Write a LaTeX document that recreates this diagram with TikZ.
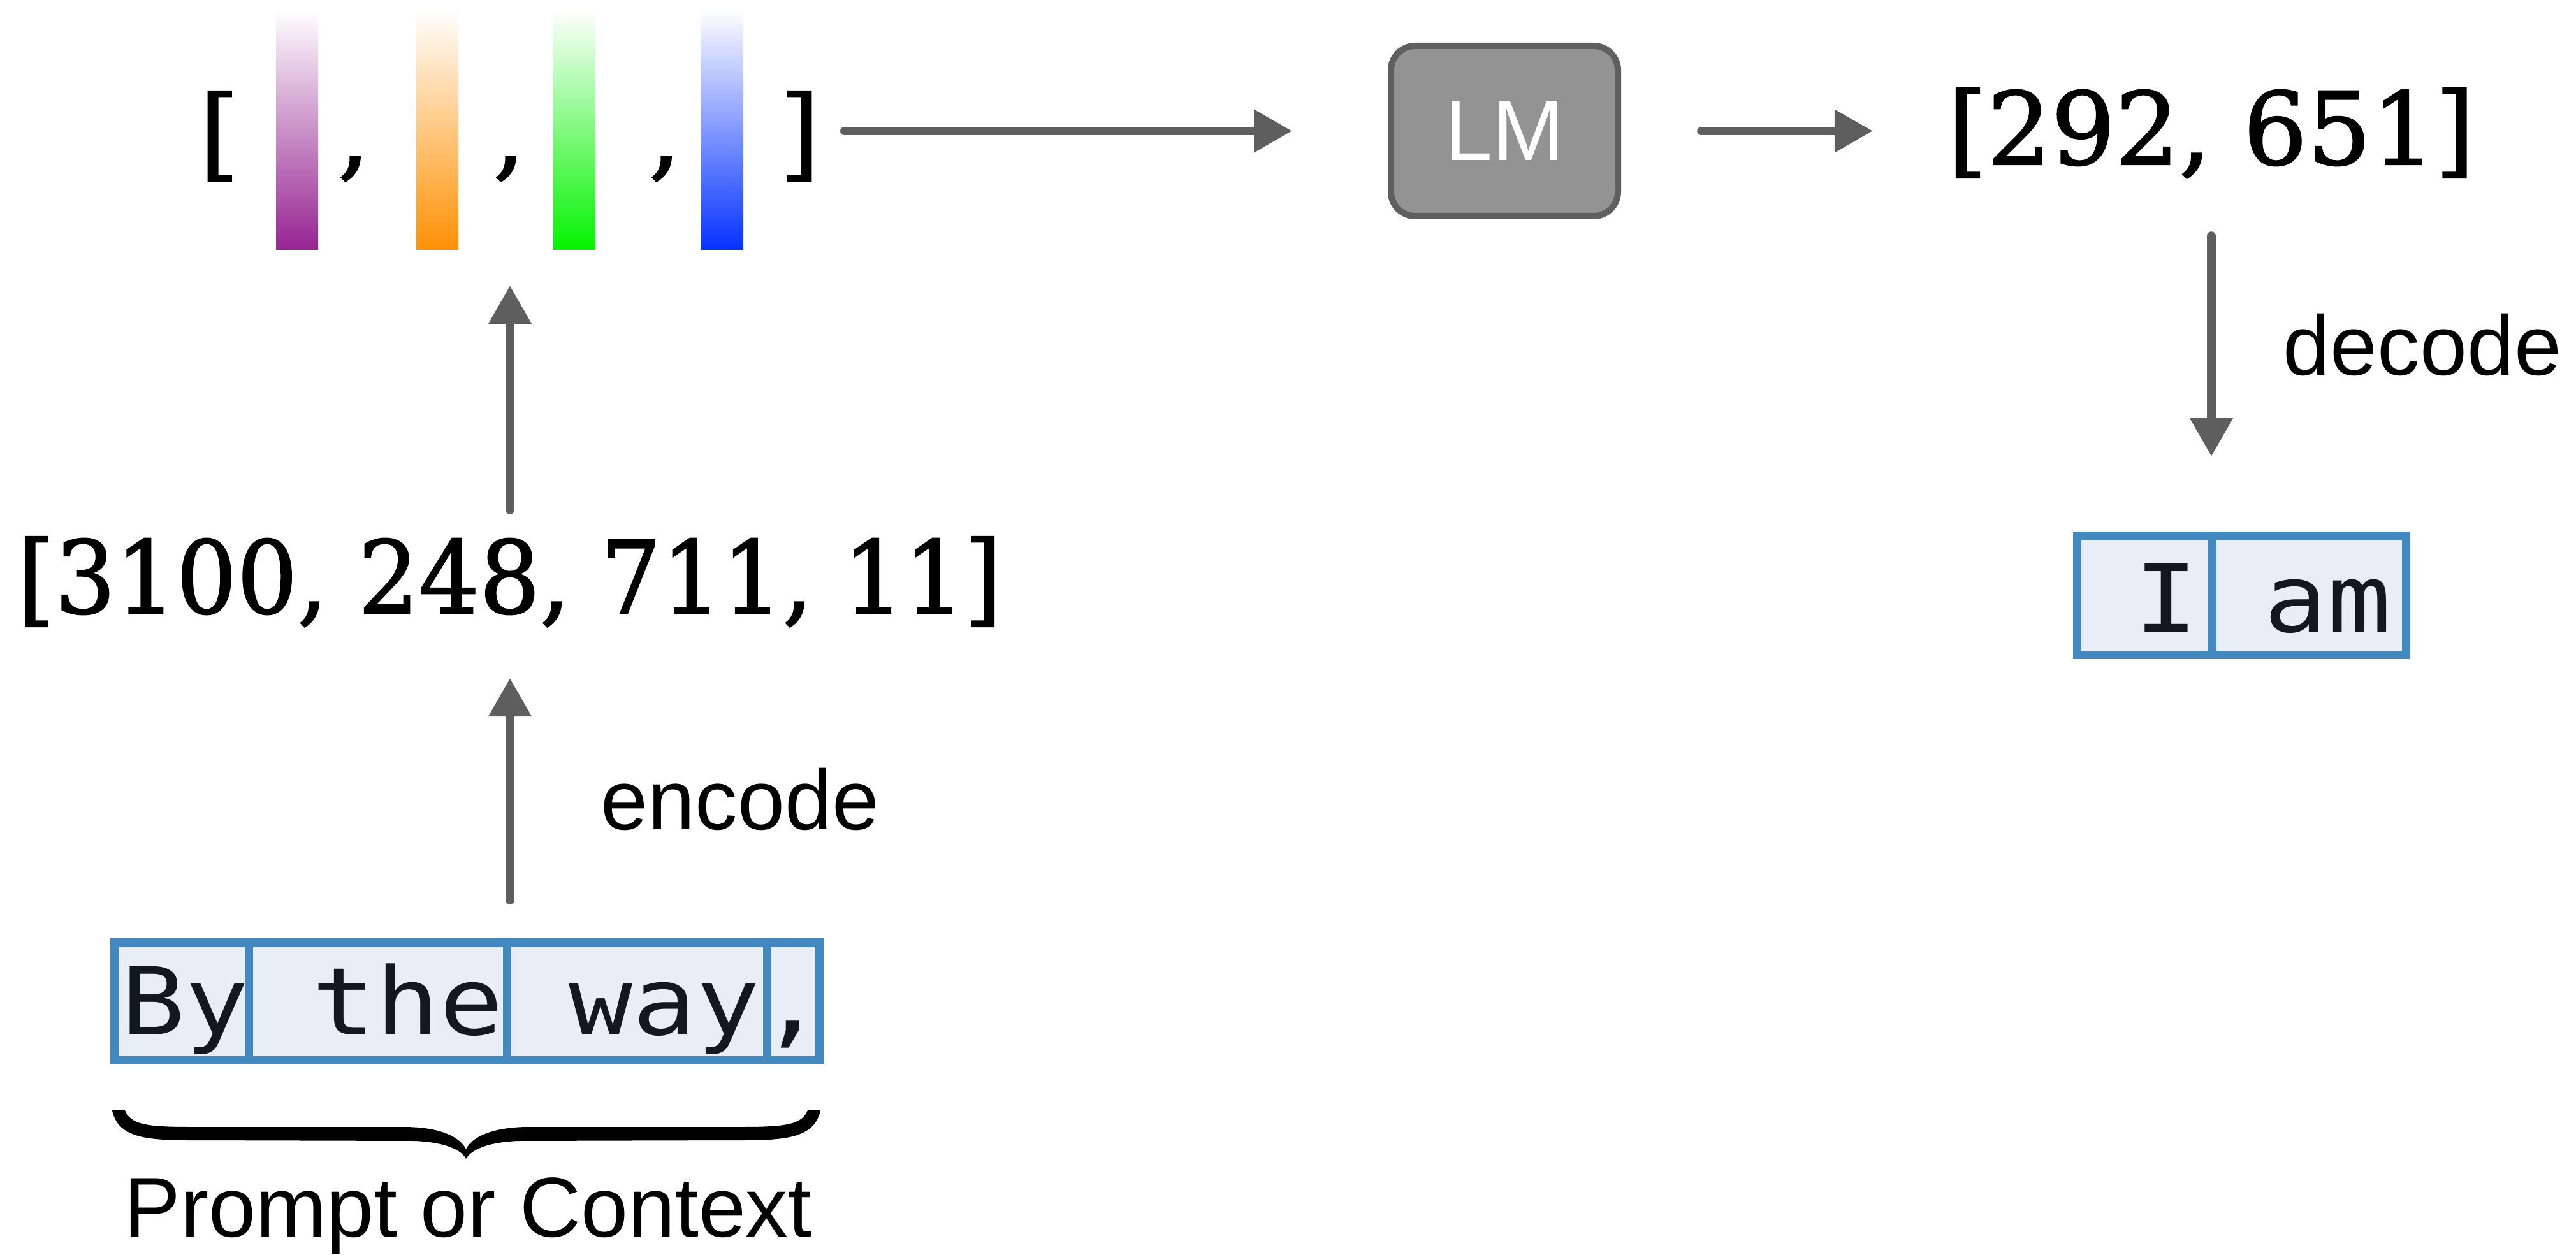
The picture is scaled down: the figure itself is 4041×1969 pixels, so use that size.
\documentclass[tikz,border=0pt]{standalone}
\usepackage{fontspec}
\setmainfont{Liberation Sans}
\newfontfamily\numfont[FakeBold=1.5]{DejaVu Serif}
\newfontfamily\tokfont[FakeStretch=1.13]{DejaVu Sans Mono}
\usetikzlibrary{arrows.meta,fit}
\definecolor{arrgray}{HTML}{5E5E5E}
\definecolor{lmfill}{HTML}{939393}
\definecolor{lmdraw}{HTML}{5F5F5F}
\definecolor{tokdraw}{HTML}{4488C0}
\definecolor{tokfill}{HTML}{E7EEF6}
\definecolor{tokink}{HTML}{111820}
\definecolor{cpurple}{HTML}{962492}
\definecolor{corange}{HTML}{FF9105}
\definecolor{cgreen}{HTML}{04F300}
\definecolor{cblue}{HTML}{0532FF}
\begin{document}
\begin{tikzpicture}[x=0.25pt,y=-0.25pt,
  arr/.style={draw=arrgray,line width=3.4pt,line cap=round,-{Triangle[length=15pt,width=16pt]}},
  num/.style={font=\numfont\fontsize{39.5}{47}\selectfont,inner sep=0pt,outer sep=0pt,text height=30pt,text depth=6.25pt,anchor=base},
  lbl/.style={font=\fontsize{33.25}{40}\selectfont,inner sep=0pt,anchor=base},
  bar/.style={minimum width=16.5pt,minimum height=94.25pt,inner sep=0pt,outer sep=0pt,top color=white},
  cell/.style={draw=tokdraw,fill=tokfill,line width=3.25pt,inner sep=0pt,outer sep=0pt,minimum height=46.25pt},
  tok/.style={font=\tokfont\fontsize{36.75}{44}\selectfont,text=tokink,inner sep=0pt,anchor=base},
]
\useasboundingbox (0,0) rectangle (4041,1969);

% embedding row
\node[bar,bottom color=cpurple] (b1) at (466,203.5) {};
\node[bar,bottom color=corange] (b2) at (686,203.5) {};
\node[bar,bottom color=cgreen] (b3) at (901,203.5) {};
\node[bar,bottom color=cblue] (b4) at (1133,203.5) {};
\node[num] (lb) at (344,263) {[};
\node[num] (cm1) at (555,263) {,};
\node[num] (cm2) at (799,263) {,};
\node[num] (cm3) at (1043,263) {,};
\node[num] (rb) at (1255,263) {]};
\node[fit=(lb)(b1)(b4)(rb),inner sep=0pt,outer sep=0pt] (emb) {};

% LM box
\node[draw=lmdraw,fill=lmfill,line width=2.5pt,rounded corners=9.5pt,minimum width=89pt,minimum height=66.75pt,inner sep=0pt,outer sep=0pt,text=white,font=\fontsize{33.75}{40}\selectfont] (lm) at (2360,205.5) {LM};

% output ids
\node[num] (out) at (3469,258) {[292, 651]};

% input ids
\node[num] (ids) at (800,962) {\scalebox{0.947}[1]{[3100, 248, 711, 11]}};

% prompt tokens
\node[cell,minimum width=52.625pt] (c1) at (284.75,1571) {};
\node[cell,minimum width=101.25pt] (c2) at (592.5,1571) {};
\node[cell,minimum width=102pt] (c3) at (999,1571) {};
\node[cell,minimum width=20.625pt] (c4) at (1244.25,1571) {};
\node[tok] (t1) at (291,1623) {By};
\node[tok] (t2) at (640,1623) {the};
\node[tok] (t3) at (1043,1623) {way};
\node[tok] (t4) at (1242,1623) {,};

% generated tokens
\node[cell,minimum width=52.875pt,minimum height=46.75pt] (d1) at (3364.25,934) {};
\node[cell,minimum width=76.125pt,minimum height=46.75pt] (d2) at (3622.25,934) {};
\node[tok] (u1) at (3398,991) {I};
\node[tok] (u2) at (3651,991) {am};

% labels
\node[lbl] (enc) at (1161,1301) {encode};
\node[lbl] (dec) at (3800,588) {decode};
\node[lbl] (ctx) at (734,1940) {Prompt or Context};

% brace
\fill (176,1742) .. controls (185,1785) and (230,1789) .. (300,1789) -- (650,1790)
  .. controls (700,1792) and (725,1805) .. (731,1818)
  .. controls (738,1805) and (763,1792) .. (813,1790) -- (1163,1789)
  .. controls (1233,1789) and (1278,1785) .. (1287,1742) -- (1267,1742)
  .. controls (1258,1765) and (1230,1768) .. (1163,1768) -- (830,1768)
  .. controls (770,1768) and (740,1785) .. (731,1803)
  .. controls (722,1785) and (693,1768) .. (633,1768) -- (300,1768)
  .. controls (233,1768) and (205,1765) .. (196,1742) -- cycle;

% connectors
\draw[arr,shorten <=9.75pt,shorten >=38.75pt] (rb.east |- lm.west) -- (lm.west);
\draw[arr,shorten <=32.75pt,shorten >=29.4pt] (lm.east) -- (lm.east -| out.west);
\draw[arr,shorten <=21.75pt,shorten >=31.1pt] (out.south) -- (out.south |- d1.north);
\draw[arr,shorten <=10.5pt,shorten >=14pt] (ids.north) -- (ids.north |- emb.south);
\draw[arr,shorten <=16.6pt,shorten >=19.25pt] (ids.south |- c2.north) -- (ids.south);
\end{tikzpicture}
\end{document}
